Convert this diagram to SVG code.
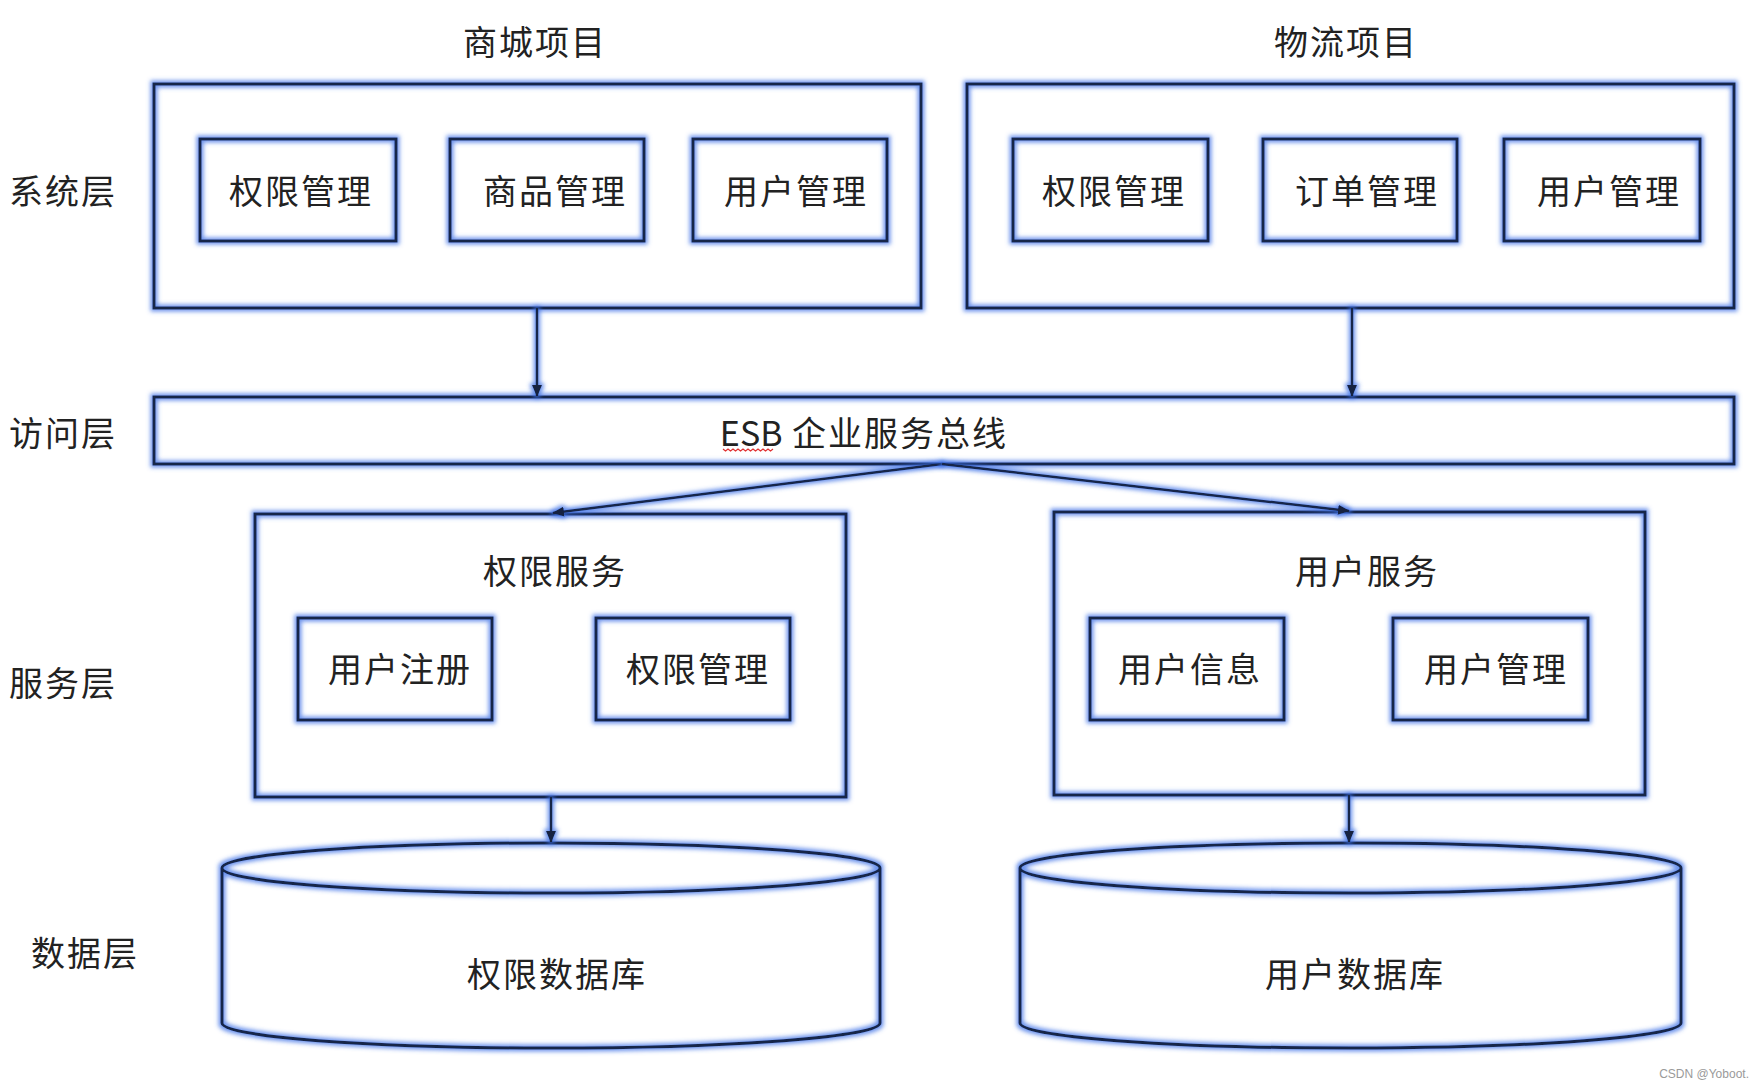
<svg xmlns="http://www.w3.org/2000/svg" width="1763" height="1087" viewBox="0 0 1763 1087">
<defs>
<filter id="glow" filterUnits="userSpaceOnUse" x="0" y="0" width="1763" height="1087">
<feMorphology in="SourceAlpha" operator="dilate" radius="1.5" result="d"/>
<feGaussianBlur in="d" stdDeviation="2.2" result="b"/>
<feFlood flood-color="#3b6fe6" flood-opacity="0.75"/>
<feComposite in2="b" operator="in" result="g"/>
<feMerge><feMergeNode in="g"/><feMergeNode in="SourceGraphic"/></feMerge>
</filter>
<marker id="arr" markerWidth="12" markerHeight="10" refX="11" refY="5" orient="auto" markerUnits="userSpaceOnUse">
<path d="M0,0 L12,5 L0,10 Z" fill="#14213f"/>
</marker>
<style>
.box{fill:none;stroke:#18254a;stroke-width:3;filter:url(#glow)}
.line{fill:none;stroke:#18254a;stroke-width:2.5;marker-end:url(#arr);filter:url(#glow)}
text{font-family:"Noto Sans CJK SC","Noto Sans",sans-serif;fill:#222;font-size:34px;letter-spacing:2px;dominant-baseline:central}
.c{text-anchor:middle}
.lbl{text-anchor:start}
</style>
</defs>
<rect width="1763" height="1087" fill="#fff"/>

<g id="titles">
<text class="c" x="535" y="40">商城项目</text>
<text class="c" x="1346" y="40">物流项目</text>
</g>
<g id="layer-labels">
<text class="lbl" x="9" y="189">系统层</text>
<text class="lbl" x="9" y="431">访问层</text>
<text class="lbl" x="9" y="681">服务层</text>
<text class="lbl" x="31" y="951">数据层</text>
</g>

<g id="mall-project">
<rect class="box" x="154" y="84" width="767" height="224"/>
</g>
<g id="mall-auth"><rect class="box" x="200" y="139" width="196" height="102"/><text class="c" x="301" y="189">权限管理</text></g>
<g id="mall-goods"><rect class="box" x="450" y="139" width="194" height="102"/><text class="c" x="555" y="189">商品管理</text></g>
<g id="mall-user"><rect class="box" x="693" y="139" width="194" height="102"/><text class="c" x="796" y="189">用户管理</text></g>

<g id="logistics-project">
<rect class="box" x="967" y="84" width="767" height="224"/>
</g>
<g id="log-auth"><rect class="box" x="1013" y="139" width="195" height="102"/><text class="c" x="1114" y="189">权限管理</text></g>
<g id="log-order"><rect class="box" x="1263" y="139" width="194" height="102"/><text class="c" x="1367" y="189">订单管理</text></g>
<g id="log-user"><rect class="box" x="1504" y="139" width="196" height="102"/><text class="c" x="1609" y="189">用户管理</text></g>

<g id="esb">
<rect class="box" x="154" y="397" width="1580" height="67"/>
<text class="c" x="864" y="431"><tspan style="letter-spacing:0">ESB</tspan> 企业服务总线</text>
<path d="M723 449 l2.5 2 l2.5 -2 l2.5 2 l2.5 -2 l2.5 2 l2.5 -2 l2.5 2 l2.5 -2 l2.5 2 l2.5 -2 l2.5 2 l2.5 -2 l2.5 2 l2.5 -2 l2.5 2 l2.5 -2 l2.5 2 l2.5 -2 l2.5 2 l2.5 -2" fill="none" stroke="#e03030" stroke-width="1.2"/>
</g>

<g id="auth-service">
<rect class="box" x="255" y="514" width="591" height="283"/>
<text class="c" x="555" y="569">权限服务</text>
</g>
<g id="svc-register"><rect class="box" x="298" y="618" width="194" height="102"/><text class="c" x="400" y="667">用户注册</text></g>
<g id="svc-auth"><rect class="box" x="596" y="618" width="194" height="102"/><text class="c" x="698" y="667">权限管理</text></g>

<g id="user-service">
<rect class="box" x="1054" y="512" width="591" height="283"/>
<text class="c" x="1367" y="569">用户服务</text>
</g>
<g id="svc-userinfo"><rect class="box" x="1090" y="618" width="194" height="102"/><text class="c" x="1190" y="667">用户信息</text></g>
<g id="svc-usermgr"><rect class="box" x="1393" y="618" width="195" height="102"/><text class="c" x="1496" y="667">用户管理</text></g>

<g id="auth-db">
<path class="box" d="M222 868 A329 25 0 0 1 880 868 A329 25 0 0 1 222 868 Z M222 868 L222 1023 A329 25 0 0 0 880 1023 L880 868"/>
<text class="c" x="557" y="972">权限数据库</text>
</g>
<g id="user-db">
<path class="box" d="M1020 868 A330.5 25 0 0 1 1681 868 A330.5 25 0 0 1 1020 868 Z M1020 868 L1020 1023 A330.5 25 0 0 0 1681 1023 L1681 868"/>
<text class="c" x="1355" y="972">用户数据库</text>
</g>

<g id="connectors">
<line class="line" x1="537" y1="308" x2="537" y2="396"/>
<line class="line" x1="1352" y1="308" x2="1352" y2="396"/>
<line class="line" x1="942" y1="464" x2="553" y2="513"/>
<line class="line" x1="942" y1="464" x2="1349" y2="511"/>
<line class="line" x1="551" y1="797" x2="551" y2="842"/>
<line class="line" x1="1349" y1="795" x2="1349" y2="842"/>
</g>

<text x="1749" y="1074" style="font-family:'Liberation Sans',sans-serif;font-size:12px;fill:#9a9a9a;text-anchor:end;letter-spacing:0">CSDN @Yoboot.</text>
</svg>
